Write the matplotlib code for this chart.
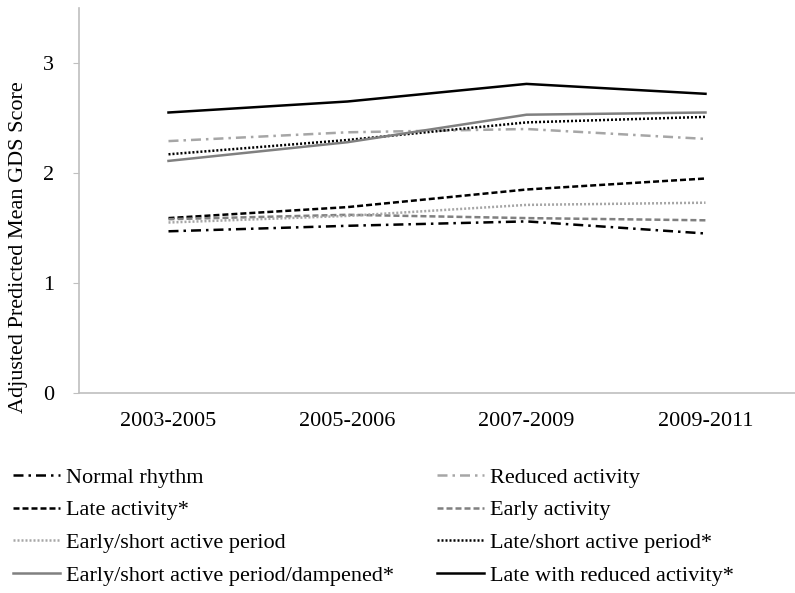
import matplotlib
matplotlib.use("Agg")
import matplotlib.pyplot as plt

periods = ["2003-2005", "2005-2006", "2007-2009", "2009-2011"]

normal_rhythm = [1.47, 1.52, 1.56, 1.45]
reduced_activity = [2.29, 2.37, 2.40, 2.31]
late_activity = [1.59, 1.69, 1.85, 1.95]
early_activity = [1.58, 1.62, 1.59, 1.57]
early_short = [1.55, 1.61, 1.71, 1.73]
late_short = [2.17, 2.30, 2.46, 2.51]
early_short_damp = [2.11, 2.28, 2.53, 2.55]
late_reduced = [2.55, 2.65, 2.81, 2.72]

plt.rcParams['font.family'] = ['Liberation Serif', 'DejaVu Serif']

W, H = 795, 593
fig = plt.figure(figsize=(W / 100, H / 100), dpi=100)
ax = fig.add_axes([79 / W, 200 / H, 716 / W, 385 / H])

x = list(range(len(periods)))
lw = 1.8
dashdot = (0, (4, 2, 1, 2))
dashed = (0, (2.4, 1.2))
dotted = (0, (0.8, 0.8))
series = [
    ("Normal rhythm", normal_rhythm, dict(color="black", linestyle=dashdot)),
    ("Reduced activity", reduced_activity, dict(color="#a6a6a6", linestyle=dashdot)),
    ("Late activity*", late_activity, dict(color="black", linestyle=dashed)),
    ("Early activity", early_activity, dict(color="#808080", linestyle=dashed)),
    ("Early/short active period", early_short, dict(color="#a6a6a6", linestyle=dotted)),
    ("Late/short active period*", late_short, dict(color="black", linestyle=dotted)),
    ("Early/short active period/dampened*", early_short_damp, dict(color="#808080", linestyle="-")),
    ("Late with reduced activity*", late_reduced, dict(color="black", linestyle="-")),
]
lines = []
for name, vals, st in series:
    ln, = ax.plot(x, vals, label=name, linewidth=lw, **st)
    lines.append(ln)

ax.set_xlim(-0.5, len(periods) - 0.5)
ax.set_ylim(0, 3.5)
ax.set_yticks([0, 1, 2, 3])
ax.set_xticks(x)
ax.set_xticklabels(periods)
ax.tick_params(axis='both', labelsize=16, colors='black')
ax.tick_params(axis='y', length=4, color='#bfbfbf', direction='out', pad=14)
ax.tick_params(axis='x', length=0, pad=14)
for s in ['top', 'right']:
    ax.spines[s].set_visible(False)
for s in ['left', 'bottom']:
    ax.spines[s].set_color('#bfbfbf')
    ax.spines[s].set_linewidth(1.2)
ax.set_ylabel("Adjusted Predicted Mean GDS Score", fontsize=16)
ax.yaxis.set_label_coords(-51 / 716, (393 - 247) / 385)

common = dict(frameon=False, fontsize=16, handlelength=2.1, handletextpad=0.3,
              labelspacing=0.55, borderpad=0, borderaxespad=0, loc='upper left')
left_idx = [0, 2, 4, 6]
right_idx = [1, 3, 5, 7]
leg1 = fig.legend([lines[i] for i in left_idx], [series[i][0] for i in left_idx],
                  bbox_to_anchor=(13 / W, 1 - 467 / H), **common)
leg2 = fig.legend([lines[i] for i in right_idx], [series[i][0] for i in right_idx],
                  bbox_to_anchor=(437 / W, 1 - 467 / H), **common)

fig.savefig("out.png", dpi=100)
